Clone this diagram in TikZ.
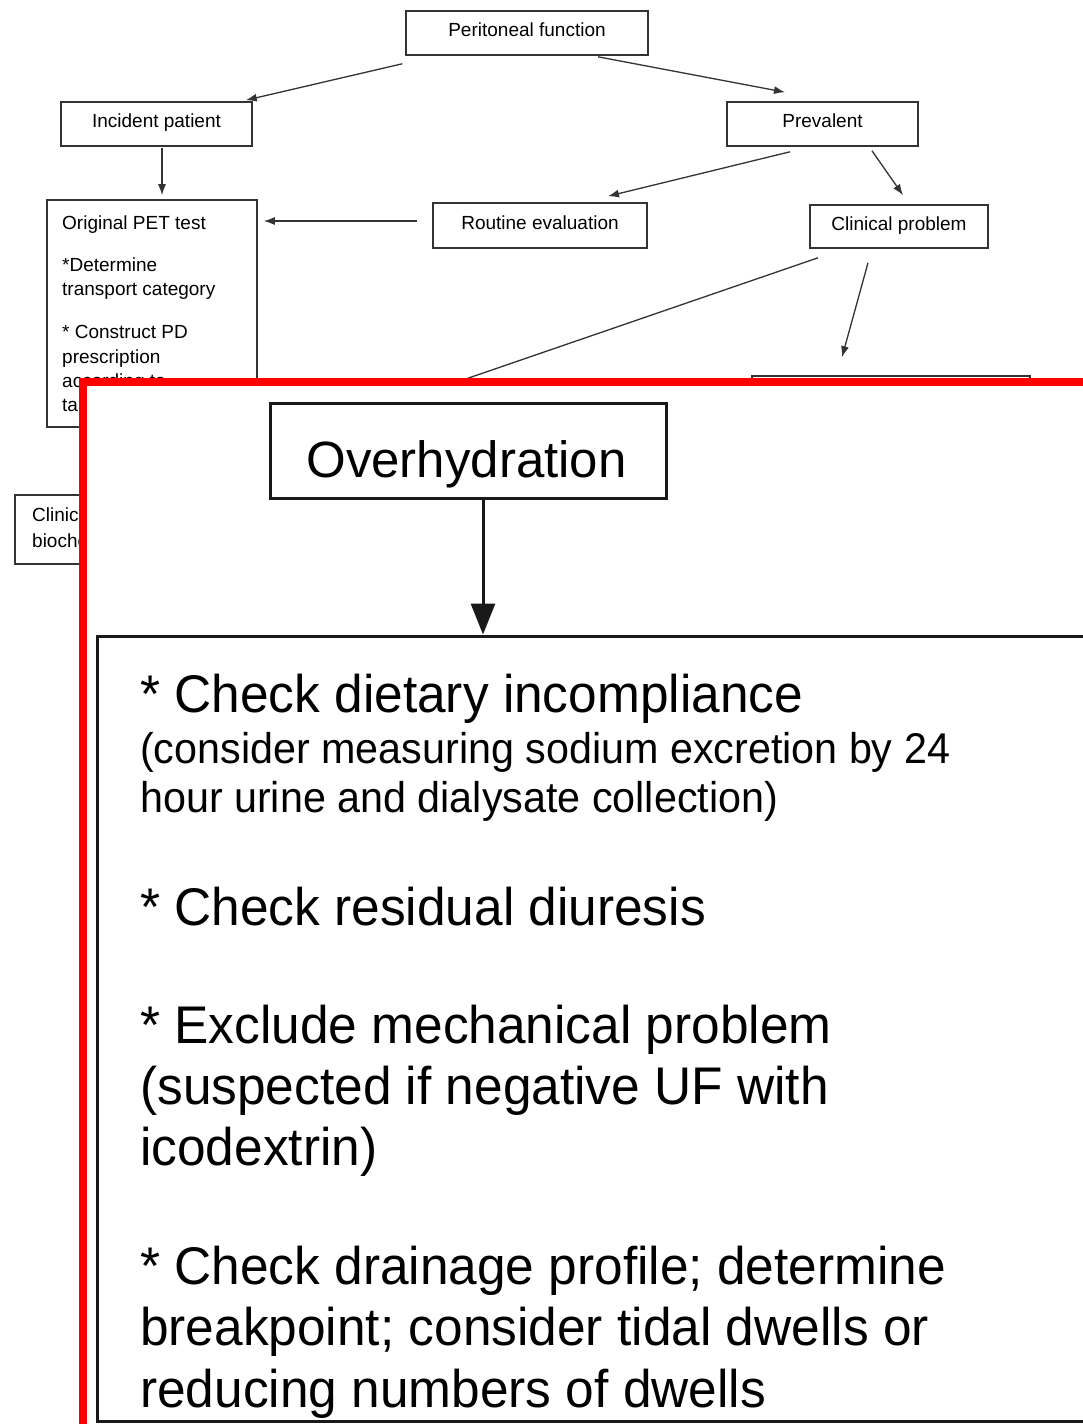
\documentclass[tikz,border=0pt]{standalone}
\usepackage{fontspec}
\setmainfont{Liberation Sans}
\newfontfamily\insetfont[FakeStretch=0.97]{Liberation Sans}
\newfontfamily\midfont[FakeStretch=0.96]{Liberation Sans}
\usetikzlibrary{arrows.meta}
\begin{document}
\begin{tikzpicture}[x=1pt,y=-1pt,
  box/.style={draw=black!80, line width=1.6pt, rectangle, inner sep=0pt, text height=14pt, text depth=7pt, font=\fontsize{19}{24}\selectfont},
  small/.style={anchor=base west, inner sep=0pt, font=\fontsize{19}{24}\selectfont},
  arr/.style={draw=black!80, line width=1.3pt, -{Latex[length=11pt,width=8pt]}},
  plain/.style={draw=black!80, line width=1.3pt},
  bigbox/.style={draw=black!90, line width=3pt, rectangle, inner sep=0pt},
  big/.style={anchor=base west, inner sep=0pt, font=\insetfont\fontsize{53}{62}\selectfont},
  mid/.style={anchor=base west, inner sep=0pt, font=\midfont\fontsize{43}{50}\selectfont},
  bigarr/.style={draw=black!90, line width=3pt, -{Triangle[length=31pt,width=24pt]}}
]
\useasboundingbox (0,0) rectangle (1083,1424);
\clip (0,0) rectangle (1083,1424);
\fill[white] (0,0) rectangle (1083,1424);

% background flowchart
\node[box, minimum width=242, minimum height=44] (pf) at (527,33) {Peritoneal function};
\node[box, minimum width=191, minimum height=44] (inc) at (156.5,124) {Incident patient};
\node[box, minimum width=191, minimum height=44] (prev) at (822.5,124) {Prevalent};
\node[box, minimum width=210, minimum height=227] (pet) at (152,313.5) {};
\node[box, minimum width=214, minimum height=45] (rout) at (540,225.5) {Routine evaluation};
\node[box, minimum width=178, minimum height=43] (clin) at (899,226.5) {Clinical problem};
\node[box, minimum width=245, minimum height=69] (cb) at (137.5,529.5) {};
\node[box, minimum width=278, minimum height=70] (hb) at (891,411) {};

\node[small] (p1) at (62,229) {Original PET test};
\node[small] (p2) at (62,271) {*Determine};
\node[small] (p3) at (62,295) {transport category};
\node[small] (p4) at (62,338) {* Construct PD};
\node[small] (p5) at (62,363) {prescription};
\node[small] (p6) at (62,387) {according to};
\node[small] (p7) at (62,411) {target};
\node[small] (c1) at (32,521) {Clinical};
\node[small] (c2) at (32,547) {biochemical};

\draw[arr] ([shift={(-3,8)}]pf.south west) -- ([shift={(-7,-1)}]inc.north east);
\draw[arr] ([shift={(71,1)}]pf.south) -- ([shift={(-37.5,-9)}]prev.north);
\draw[arr] ([shift={(5.5,1)}]inc.south) -- ([shift={(10,-4)}]pet.north);
\draw[arr] ([shift={(-15,-4.5)}]rout.west) -- ([shift={(6,-4.5)}]rout.west -| pet.east);
\draw[arr] ([shift={(-32.5,5)}]prev.south) -- ([shift={(68,-6)}]rout.north);
\draw[arr] ([shift={(49.5,4)}]prev.south) -- ([shift={(4,-9)}]clin.north);
\coordinate (hid) at (300,436);
\draw[plain] ([shift={(-81,9)}]clin.south) -- (hid);
\draw[arr] ([shift={(-31,14)}]clin.south) -- ([shift={(-49,-18)}]hb.north);

% inset
\draw[red, line width=8pt, fill=white] (83,382) rectangle (1130,1470);
\node[bigbox, minimum width=396, minimum height=95] (ovh) at (468,450.5) {};
\node[anchor=base, inner sep=0pt, font=\fontsize{51}{60}\selectfont] (ovt) at (466.5,477) {Overhydration};
\node[bigbox, minimum width=1030, minimum height=785] (acts) at (612,1028.5) {};
\draw[bigarr] ([xshift=15]ovh.south) -- ([xshift=15]ovh.south |- acts.north);

\node[big] (l1) at (140,712) {* Check dietary incompliance};
\node[mid] (l2) at (140,763) {(consider measuring sodium excretion by 24};
\node[mid] (l3) at (140,812) {hour urine and dialysate collection)};
\node[big] (l4) at (140,925) {* Check residual diuresis};
\node[big] (l5) at (140,1043) {* Exclude mechanical problem};
\node[big] (l6) at (140,1104) {(suspected if negative UF with};
\node[big] (l7) at (140,1165) {icodextrin)};
\node[big] (l8) at (140,1284) {* Check drainage profile; determine};
\node[big] (l9) at (140,1345) {breakpoint; consider tidal dwells or};
\node[big] (l10) at (140,1407) {reducing numbers of dwells};
\end{tikzpicture}
\end{document}
